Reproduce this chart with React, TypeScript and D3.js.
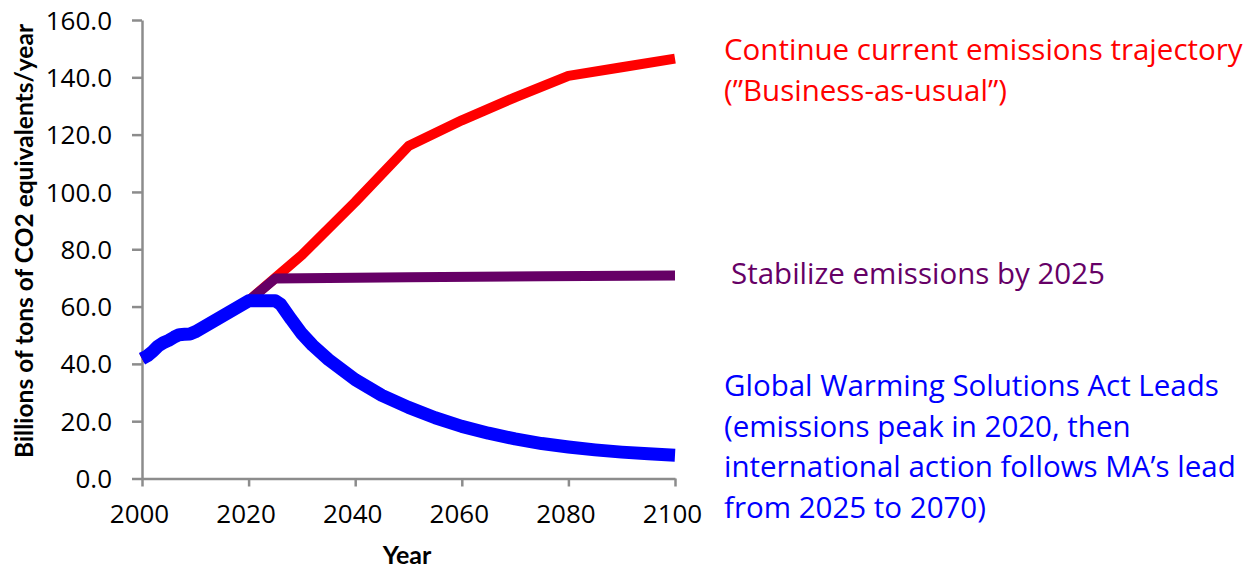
import { useEffect, useRef } from "react"
import * as d3 from "d3"

const WIDTH = 1258
const HEIGHT = 569

// readings (billions of tons CO2e per year)
const sharedYears = [2000, 2001, 2002, 2003, 2004, 2005, 2006, 2007, 2008, 2009, 2010, 2015, 2020]
const sharedValues = [41.8, 42.8, 44.3, 46.2, 47.4, 48.2, 49.3, 50.2, 50.3, 50.4, 51.2, 56.6, 62.0]

const bauYears = [2025, 2030, 2040, 2050, 2060, 2070, 2080, 2090, 2100]
const bauValues = [70.0, 78.0, 96.5, 116.0, 125.0, 133.0, 140.5, 143.5, 146.5]

const stabYears = [2025, 2050, 2075, 2100]
const stabValues = [69.8, 70.2, 70.6, 70.8]

const gwsaYears = [2025, 2026, 2028, 2030, 2032, 2035, 2040, 2045, 2050, 2055, 2060, 2065, 2070, 2075, 2080, 2085, 2090, 2095, 2100]
const gwsaValues = [62.0, 60.8, 55.5, 50.5, 46.5, 41.5, 34.5, 29.0, 24.8, 21.2, 18.2, 15.8, 13.8, 12.2, 11.0, 10.0, 9.2, 8.6, 8.1]

const xTicks = [2000, 2020, 2040, 2060, 2080, 2100]
const yTicks = [0, 20, 40, 60, 80, 100, 120, 140, 160]

const bodyFont = "'Open Sans', 'Noto Sans', sans-serif"
const titleFont = "Lato, 'Open Sans', sans-serif"

type Pt = { year: number; value: number }

const zip = (ys: number[], vs: number[]): Pt[] => ys.map((year, i) => ({ year, value: vs[i] }))

const App = () => {
  const ref = useRef<SVGSVGElement>(null)

  useEffect(() => {
    const svg = d3.select(ref.current)
    svg.selectAll("*").remove()

    const x = d3.scaleLinear().domain([2000, 2100]).range([142, 675])
    const y = d3.scaleLinear().domain([0, 160]).range([478.5, 20])

    const shared = zip(sharedYears, sharedValues)
    const series = [
      { data: [...shared, ...zip(bauYears, bauValues)], color: "#ff0000", width: 10 },
      { data: [...shared, ...zip(stabYears, stabValues)], color: "#660066", width: 10 },
      { data: [...shared, ...zip(gwsaYears, gwsaValues)], color: "#0000ff", width: 13 },
    ]

    const line = d3
      .line<Pt>()
      .x((d) => x(d.year))
      .y((d) => y(d.value))

    // axes
    const yAxis = svg
      .append("g")
      .attr("transform", `translate(${x(2000)},0)`)
      .call(d3.axisLeft(y).tickValues(yTicks).tickSize(10).tickSizeOuter(0).tickFormat(d3.format(".1f")) as any)
    const xAxis = svg
      .append("g")
      .attr("transform", `translate(0,${y(0)})`)
      .call(d3.axisBottom(x).tickValues(xTicks).tickSize(8).tickSizeOuter(0).tickFormat(d3.format("d")) as any)

    for (const ax of [yAxis, xAxis]) {
      ax.select(".domain").attr("stroke", "#8c8c8c").attr("stroke-width", 2.5)
      ax.selectAll(".tick line").attr("stroke", "#8c8c8c").attr("stroke-width", 2.5)
      ax.selectAll(".tick text")
        .attr("fill", "#000")
        .style("font-family", bodyFont)
        .style("font-size", "26px")
    }
    yAxis.selectAll(".tick text").attr("x", -30).attr("dy", "0.35em")
    xAxis.selectAll(".tick text").attr("y", 35).attr("dy", "0.35em").attr("dx", -3)

    // lines
    series.forEach((s) => {
      svg
        .append("path")
        .datum(s.data)
        .attr("d", line)
        .attr("fill", "none")
        .attr("stroke", s.color)
        .attr("stroke-width", s.width)
        .attr("stroke-linejoin", "round")
        .attr("stroke-linecap", "butt")
    })

    // axis titles
    svg
      .append("text")
      .attr("transform", `translate(33,241) rotate(-90)`)
      .attr("text-anchor", "middle")
      .style("font-family", titleFont)
      .style("font-weight", "bold")
      .style("font-size", "24.5px")
      .text("Billions of tons of CO2 equivalents/year")
    svg
      .append("text")
      .attr("x", 407)
      .attr("y", 564)
      .attr("text-anchor", "middle")
      .style("font-family", titleFont)
      .style("font-weight", "bold")
      .style("font-size", "25px")
      .text("Year")

    // annotations
    const notes = [
      { x: 724, y: 60, color: "#ff0000", lines: ["Continue current emissions trajectory", "(\u201DBusiness-as-usual\u201D)"] },
      { x: 731, y: 284, color: "#660066", lines: ["Stabilize emissions by 2025"] },
      {
        x: 724,
        y: 396,
        color: "#0000ff",
        lines: [
          "Global Warming Solutions Act Leads",
          "(emissions peak in 2020, then",
          "international action follows MA\u2019s lead",
          "from 2025 to 2070)",
        ],
      },
    ]
    notes.forEach((n) => {
      const t = svg
        .append("text")
        .attr("fill", n.color)
        .style("font-family", bodyFont)
        .style("font-size", "29.5px")
      n.lines.forEach((l, i) => {
        t.append("tspan").attr("x", n.x).attr("y", n.y + i * 40.7).text(l)
      })
    })
  }, [])

  return (
    <div style={{ position: "absolute", left: 0, top: 0 }}>
      <svg ref={ref} width={WIDTH} height={HEIGHT} style={{ background: "#fff", display: "block" }} />
    </div>
  )
}

export default App
